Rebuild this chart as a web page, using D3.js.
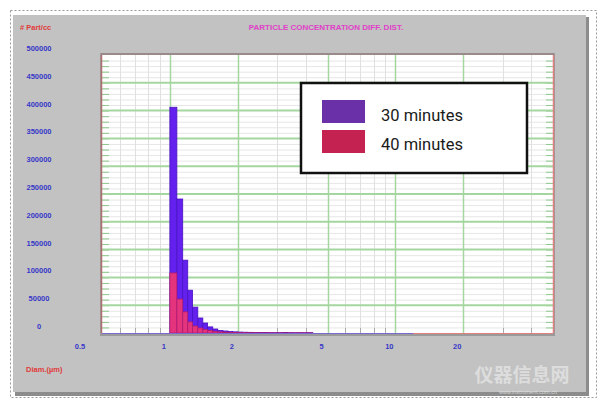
<!DOCTYPE html>
<html><head><meta charset="utf-8">
<script src="https://cdn.jsdelivr.net/npm/d3@7"></script>
<style>body{margin:0;background:#fff;}svg{display:block;}</style>
</head><body>
<svg id="c" width="608" height="411"></svg>
<script>
// ---- data ----
const binEdges = [1.00,1.074,1.14,1.20,1.26,1.33,1.40,1.47,1.55,1.63,1.72,1.81,1.90,2.00,2.10,2.21,2.33,2.45,2.58,2.72,2.86,3.01,3.17,3.33,3.50,3.69,3.88,4.08,4.30];
const min30 = [406000,241000,131000,77000,46500,27000,18000,11000,7200,4600,3600,2700,2100,1700,1400,1200,1000,900,800,700,600,600,800,600,500,500,500,600];
const min40 = [108000,61000,38000,20000,12600,9000,6300,4500,3000,2000,1500,1200,900,700,600,500,400,300,300,300,200,200,200,200,200,200,200,200];
const seriesNames = ["30 minutes","40 minutes"];
const yTicks = [0,50000,100000,150000,200000,250000,300000,350000,400000,450000,500000];
const xTicks = [0.5,1,2,5,10,20];
const xMinor = [0.6,0.7,0.8,0.9,3,4,6,7,8,9,30,40];
const title = "PARTICLE CONCENTRATION DIFF. DIST.";
const yTitle = "# Part/cc";
const xTitle = "Diam.(µm)";

const svg = d3.select("#c");
const P = {l:102, r:553, t:55, b:333};
const x = d3.scaleLog().domain([0.5,50]).range([P.l,P.r]);
const y = d3.scaleLinear().domain([0,500000]).range([P.b,P.t]);

// outer dashed frame
svg.append("rect").attr("x",10.5).attr("y",10.5).attr("width",586).attr("height",387)
  .attr("fill","#fff").attr("stroke","#999").attr("stroke-dasharray","2,2");
// gray panel with shadow
svg.append("rect").attr("x",15).attr("y",17).attr("width",574).attr("height",379).attr("fill","#8c8c8c");
svg.append("rect").attr("x",13).attr("y",15).attr("width",573).attr("height",377).attr("fill","#c2c2c2");

// plot area shadow + background
svg.append("rect").attr("x",P.l-2).attr("y",P.t-2).attr("width",P.r-P.l+4).attr("height",P.b-P.t+5).attr("fill","#9a9a9a");
svg.append("rect").attr("x",P.l).attr("y",P.t).attr("width",P.r-P.l).attr("height",P.b-P.t).attr("fill","#fff");

const g = svg.append("g");
// minor horizontal lines
const yMinor = d3.range(10000,500000,10000).filter(v=>v%50000!==0);
g.selectAll(".hm").data(yMinor).join("line")
  .attr("x1",P.l).attr("x2",P.r).attr("y1",d=>y(d)+0.5).attr("y2",d=>y(d)+0.5)
  .attr("stroke","#e6e6e6").attr("stroke-width",1);
// minor vertical lines
g.selectAll(".vm").data(xMinor).join("line")
  .attr("x1",d=>Math.round(x(d))+0.5).attr("x2",d=>Math.round(x(d))+0.5).attr("y1",P.t).attr("y2",P.b)
  .attr("stroke","#e0e0e0").attr("stroke-width",1);
// left / right small tick marks
const sideTicks = yMinor.concat(yTicks.filter(v=>v>0&&v<500000));
g.selectAll(".lt").data(sideTicks).join("line")
  .attr("x1",P.l).attr("x2",P.l+7).attr("y1",d=>y(d)+0.5).attr("y2",d=>y(d)+0.5)
  .attr("stroke","#8cc98c").attr("stroke-width",1);
g.selectAll(".rt").data(sideTicks).join("line")
  .attr("x1",P.r-7).attr("x2",P.r).attr("y1",d=>y(d)+0.5).attr("y2",d=>y(d)+0.5)
  .attr("stroke","#8cc98c").attr("stroke-width",1);
// bottom small ticks
g.selectAll(".bt").data(xMinor).join("line")
  .attr("x1",d=>Math.round(x(d))+0.5).attr("x2",d=>Math.round(x(d))+0.5).attr("y1",P.b-5).attr("y2",P.b)
  .attr("stroke","#aaa");
// major lines
g.selectAll(".hM").data(yTicks.filter(v=>v>0&&v<500000)).join("line")
  .attr("x1",P.l).attr("x2",P.r).attr("y1",d=>y(d)).attr("y2",d=>y(d))
  .attr("stroke","#a6d6a0").attr("stroke-width",2);
g.selectAll(".vM").data(xTicks.filter(v=>v>0.5)).join("line")
  .attr("x1",d=>Math.round(x(d))+0.5).attr("x2",d=>Math.round(x(d))+0.5).attr("y1",P.t).attr("y2",P.b)
  .attr("stroke","#a6d6a0").attr("stroke-width",1.5);

// bars
const bins30 = min30.map((v,i)=>({x0:binEdges[i],x1:binEdges[i+1],v}));
const bins40 = min40.map((v,i)=>({x0:binEdges[i],x1:binEdges[i+1],v}));
g.selectAll(".b30").data(bins30).join("rect")
  .attr("x",d=>x(d.x0)).attr("width",d=>x(d.x1)-x(d.x0))
  .attr("y",d=>y(d.v)).attr("height",d=>y(0)-y(d.v))
  .attr("fill","#6420ec").attr("stroke","#4a12c4").attr("stroke-width",0.8);
g.selectAll(".b40").data(bins40).join("rect")
  .attr("x",d=>x(d.x0)).attr("width",d=>x(d.x1)-x(d.x0))
  .attr("y",d=>y(d.v)).attr("height",d=>y(0)-y(d.v))
  .attr("fill","#e4347e").attr("stroke","#b01e70").attr("stroke-width",0.8);

// plot border lines
svg.append("line").attr("x1",P.l-1).attr("x2",P.r+1).attr("y1",P.t-1).attr("y2",P.t-1).attr("stroke","#9a8a8a").attr("stroke-width",2);
svg.append("line").attr("x1",P.l-0.5).attr("x2",P.l-0.5).attr("y1",P.t).attr("y2",P.b).attr("stroke","#b07070").attr("stroke-width",1.5);
svg.append("line").attr("x1",P.r+0.5).attr("x2",P.r+0.5).attr("y1",P.t).attr("y2",P.b).attr("stroke","#e08080").attr("stroke-width",1.5);
svg.append("line").attr("x1",P.l).attr("x2",x(12)).attr("y1",P.b+0.5).attr("y2",P.b+0.5).attr("stroke","#7a6ad0").attr("stroke-width",1);
svg.append("line").attr("x1",x(12)).attr("x2",P.r).attr("y1",P.b+0.5).attr("y2",P.b+0.5).attr("stroke","#e08080").attr("stroke-width",1);

// texts
const small = "'Liberation Sans', Arial, sans-serif";
svg.append("text").attr("x",326).attr("y",30).attr("text-anchor","middle")
  .attr("font-family",small).attr("font-size",8).attr("font-weight","bold").attr("fill","#e040c8").text(title);
svg.append("text").attr("x",20).attr("y",30)
  .attr("font-family",small).attr("font-size",7.5).attr("font-weight","bold").attr("fill","#e03a3a").text(yTitle);
svg.append("text").attr("x",26).attr("y",372)
  .attr("font-family",small).attr("font-size",7.5).attr("font-weight","bold").attr("fill","#e03a3a").text(xTitle);
svg.selectAll(".yl").data(yTicks).join("text")
  .attr("x",39).attr("y",d=>y(d)-4).attr("text-anchor","middle")
  .attr("font-family",small).attr("font-size",7.5).attr("font-weight","bold").attr("fill","#3838c8")
  .text(d=>d);
svg.selectAll(".xl").data(xTicks).join("text")
  .attr("x",d=>x(d)-(d===x.domain()[0]?22:6)).attr("y",349).attr("text-anchor","middle")
  .attr("font-family",small).attr("font-size",7.5).attr("font-weight","bold").attr("fill","#3838c8")
  .text(d=>d);

// legend
const L = svg.append("g");
L.append("rect").attr("x",301).attr("y",83).attr("width",226).attr("height",90)
  .attr("fill","#fff").attr("stroke","#111").attr("stroke-width",2.5);
const legColors = ["#6a30a8","#c42250"];
seriesNames.forEach((n,i)=>{
  L.append("rect").attr("x",322).attr("y",100+i*30).attr("width",43).attr("height",23).attr("fill",legColors[i]);
  L.append("text").attr("x",381).attr("y",121+i*29).attr("font-family","Roboto, Arial, sans-serif")
    .attr("font-size",16.5).attr("fill","#1a1a1a").text(n);
});

// watermark
svg.append("text").attr("x",522).attr("y",382).attr("text-anchor","middle")
  .attr("font-family","'Noto Sans CJK SC', sans-serif").attr("font-size",19).attr("font-weight","bold")
  .attr("fill","#ffffff").attr("opacity",0.45).text("仪器信息网");
svg.append("text").attr("x",528).attr("y",394).attr("text-anchor","middle")
  .attr("font-family",small).attr("font-size",5.5).attr("fill","#ffffff").attr("opacity",0.6).text("www.instrument.com.cn");
</script>
</body></html>
